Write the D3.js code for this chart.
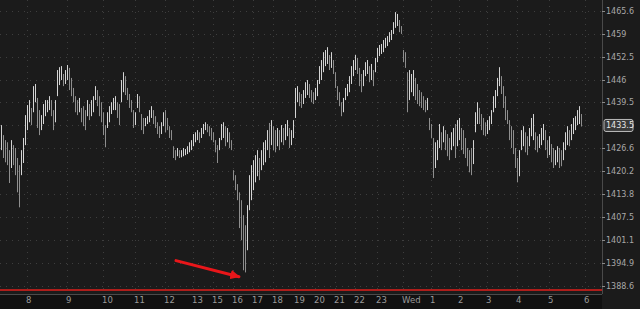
<!DOCTYPE html>
<meta charset="utf-8">
<script src="https://d3js.org/d3.v7.min.js"></script>
<style>
    body { margin: 0; background: #1b1b1b; }
    svg { display: block; font-family: "DejaVu Sans", sans-serif; }
</style>
<body>
<div id="chart"></div>
</body>
<script>
    // one bar per entry, high / low
    const highs = [
        1433.6, 1430.8, 1429.4, 1428.8, 1426.6, 1429.4, 1428.0, 1427.2, 1424.4, 1422.4,
        1426.6, 1430.0, 1436.4, 1439.2, 1440.6, 1438.4, 1444.5, 1445.1, 1441.2, 1437.8,
        1436.4, 1439.5, 1440.6, 1440.6, 1441.7, 1440.6, 1437.8, 1440.6, 1449.0, 1449.8,
        1450.1, 1447.9, 1449.0, 1450.4, 1449.6, 1446.8, 1444.0, 1441.7, 1440.6, 1441.2,
        1438.4, 1438.9, 1437.8, 1440.6, 1439.5, 1440.6, 1441.7, 1444.5, 1443.4, 1441.7,
        1440.0, 1437.2, 1433.6, 1437.2, 1438.9, 1440.0, 1441.2, 1441.7, 1440.0, 1439.5,
        1446.2, 1448.4, 1447.3, 1444.0, 1442.3, 1440.6, 1437.8, 1437.2, 1442.3, 1441.7,
        1436.7, 1435.6, 1435.6, 1436.1, 1437.8, 1438.9, 1437.8, 1436.1, 1434.4, 1433.3,
        1434.4, 1437.2, 1437.8, 1435.6, 1433.3, 1432.2, 1427.7, 1426.6, 1427.2, 1426.6,
        1426.6, 1427.2, 1426.9, 1427.7, 1428.8, 1429.4, 1431.1, 1431.6, 1432.2, 1431.6,
        1432.8, 1433.9, 1434.4, 1433.9, 1433.3, 1432.8, 1431.6, 1429.4, 1428.0, 1430.0,
        1433.9, 1434.4, 1433.3, 1432.8, 1431.6, 1429.4, 1421.0, 1419.6, 1417.1, 1414.8,
        1412.6, 1408.4, 1405.6, 1411.2, 1419.6, 1422.4, 1423.8, 1425.2, 1426.6, 1424.4,
        1426.6, 1428.8, 1429.4, 1432.2, 1434.2, 1435.0, 1433.3, 1432.2, 1432.8, 1432.2,
        1433.6, 1432.8, 1433.9, 1435.0, 1432.8, 1432.2, 1435.0, 1444.0, 1444.5, 1442.8,
        1442.3, 1443.4, 1445.6, 1446.2, 1445.1, 1443.4, 1442.8, 1444.0, 1446.2, 1450.1,
        1451.8, 1454.0, 1454.6, 1455.4, 1453.2, 1454.0, 1451.8, 1448.4, 1444.5, 1442.8,
        1440.0, 1441.2, 1444.0, 1445.1, 1447.3, 1450.1, 1451.8, 1453.2, 1452.4, 1449.6,
        1447.9, 1449.0, 1451.2, 1451.8, 1450.1, 1450.7, 1449.0, 1452.4, 1455.2, 1456.0,
        1456.3, 1457.4, 1458.0, 1458.5, 1459.6, 1460.2, 1462.4, 1465.2, 1464.7, 1463.0,
        1461.3, 1454.6, 1454.0, 1448.4, 1449.0, 1447.9, 1449.0, 1446.8, 1445.1, 1443.4,
        1442.8, 1441.7, 1440.6, 1441.2, 1435.6, 1433.9, 1430.0, 1428.8, 1429.4, 1433.9,
        1431.6, 1433.3, 1432.2, 1431.1, 1430.0, 1431.6, 1432.8, 1433.9, 1435.0, 1435.6,
        1432.8, 1432.2, 1430.0, 1427.2, 1426.6, 1427.2, 1429.4, 1437.2, 1440.0, 1438.4,
        1436.7, 1435.6, 1434.4, 1435.0, 1436.1, 1437.8, 1441.7, 1443.4, 1446.8, 1449.8,
        1447.3, 1444.5, 1441.7, 1437.8, 1435.0, 1433.3, 1432.2, 1427.2, 1424.4, 1426.6,
        1432.2, 1433.3, 1431.6, 1430.5, 1432.8, 1435.6, 1436.7, 1431.6, 1430.5, 1431.1,
        1432.8, 1433.9, 1432.2, 1429.4, 1430.5, 1428.3, 1427.2, 1426.6, 1427.7, 1427.2,
        1426.6, 1428.8, 1431.6, 1433.3, 1432.2, 1433.9, 1435.6, 1436.1, 1437.8, 1438.9,
        1436.7
    ];
    const lows = [
        1426.6, 1424.4, 1423.2, 1422.4, 1417.4, 1421.6, 1422.4, 1419.6, 1414.8, 1410.6,
        1419.6, 1423.0, 1428.0, 1432.2, 1434.4, 1433.6, 1437.2, 1440.0, 1432.8, 1430.8,
        1432.2, 1433.9, 1436.1, 1437.2, 1437.8, 1436.1, 1432.2, 1434.4, 1441.7, 1444.8,
        1446.2, 1444.5, 1445.1, 1446.2, 1443.4, 1441.7, 1440.0, 1437.2, 1436.4, 1437.2,
        1434.4, 1433.3, 1432.2, 1436.1, 1435.0, 1436.1, 1437.2, 1440.6, 1438.9, 1436.1,
        1434.4, 1430.8, 1427.4, 1432.8, 1434.4, 1436.7, 1437.8, 1437.8, 1435.6, 1433.6,
        1440.0, 1442.8, 1442.0, 1440.6, 1438.4, 1437.2, 1432.8, 1433.6, 1438.4, 1437.2,
        1432.2, 1431.1, 1433.3, 1433.9, 1434.4, 1435.6, 1433.9, 1432.8, 1431.1, 1430.0,
        1431.1, 1433.3, 1431.6, 1432.2, 1430.0, 1429.4, 1424.4, 1423.8, 1424.9, 1424.4,
        1424.6, 1424.9, 1425.2, 1425.5, 1426.0, 1426.6, 1427.7, 1428.8, 1429.4, 1428.6,
        1430.0, 1431.1, 1432.2, 1431.6, 1430.5, 1429.4, 1428.8, 1426.0, 1423.0, 1426.6,
        1429.4, 1430.0, 1427.7, 1428.8, 1427.2, 1426.6, 1418.2, 1415.4, 1412.6, 1404.8,
        1401.4, 1393.0, 1392.4, 1398.6, 1409.8, 1412.6, 1415.4, 1417.6, 1419.3, 1418.2,
        1421.0, 1422.4, 1423.2, 1426.6, 1424.4, 1428.0, 1426.6, 1426.0, 1427.7, 1426.6,
        1428.8, 1428.0, 1429.4, 1430.5, 1427.2, 1428.0, 1430.0, 1435.6, 1440.0, 1438.9,
        1438.4, 1439.5, 1441.2, 1442.0, 1441.2, 1440.0, 1439.5, 1440.6, 1441.7, 1445.1,
        1446.2, 1448.4, 1450.1, 1450.7, 1449.0, 1449.6, 1447.9, 1444.0, 1440.6, 1438.9,
        1436.1, 1437.2, 1440.6, 1441.7, 1442.8, 1445.1, 1447.3, 1449.0, 1447.9, 1444.5,
        1442.8, 1444.5, 1447.3, 1447.9, 1445.6, 1446.2, 1444.5, 1448.4, 1451.2, 1452.9,
        1453.5, 1454.0, 1455.2, 1455.7, 1456.8, 1457.4, 1459.1, 1460.8, 1461.3, 1459.6,
        1459.1, 1451.2, 1449.6, 1437.2, 1440.6, 1442.8, 1441.7, 1440.6, 1439.5, 1438.9,
        1438.4, 1437.8, 1437.2, 1437.8, 1432.2, 1430.0, 1418.8, 1421.6, 1423.8, 1427.2,
        1426.6, 1428.8, 1426.6, 1424.9, 1423.8, 1426.6, 1427.7, 1424.4, 1427.7, 1429.4,
        1426.6, 1425.5, 1424.4, 1422.1, 1420.4, 1419.6, 1422.7, 1431.6, 1433.9, 1433.9,
        1432.2, 1430.8, 1430.5, 1431.1, 1432.2, 1433.9, 1437.2, 1438.4, 1441.7, 1444.5,
        1442.3, 1438.4, 1435.0, 1433.9, 1429.4, 1427.2, 1425.5, 1421.6, 1417.6, 1419.3,
        1426.6, 1427.7, 1426.0, 1425.2, 1427.7, 1430.5, 1429.4, 1426.6, 1426.0, 1427.2,
        1428.0, 1429.4, 1426.6, 1424.4, 1425.2, 1423.2, 1421.6, 1422.4, 1423.2, 1421.6,
        1422.1, 1423.8, 1426.6, 1428.0, 1427.7, 1429.4, 1431.1, 1432.2, 1433.6, 1433.9,
        1433.2
    ];
    const lastPrice = 1433.5;

    // x axis: bar index where each hour starts, and its label
    const tickBars = [13, 33, 51, 67, 82, 96, 106, 116, 126, 136, 147, 157, 167, 177, 188, 201, 215, 229, 243, 258, 274, 292];
    const tickNames = ["8", "9", "10", "11", "12", "13", "15", "16", "17", "18", "19", "20", "21", "22", "23", "Wed", "1", "2", "3", "4", "5", "6"];

    // y axis labels, evenly spaced between the two ends
    const priceLabels = ["1388.6", "1394.9", "1401.1", "1407.5", "1413.8", "1420.2", "1426.6", "1433", "1439.5", "1446", "1452.5", "1459", "1465.6"];
    const supportLevel = 1387.5;

    const W = 640, H = 309;
    const plotRight = 602, plotBottom = 294;

    const svg = d3.select("#chart").append("svg")
        .attr("width", W)
        .attr("height", H);

    svg.append("rect").attr("width", W).attr("height", H).attr("fill", "#1b1b1b");
    svg.append("rect").attr("x", 0).attr("y", plotBottom).attr("width", plotRight).attr("height", H - plotBottom).attr("fill", "#111111");

    const x = d3.scaleLinear().domain([-0.5, 300.5]).range([0, plotRight]);
    const lo = +priceLabels[0], hi = +priceLabels[priceLabels.length - 1];
    const y = d3.scaleLinear().domain([lo, hi]).range([286, 10.7]);
    const yTicks = d3.range(priceLabels.length).map(i => lo + (hi - lo) * i / (priceLabels.length - 1));

    // grid
    svg.append("g").selectAll("line").data(yTicks).join("line")
        .attr("x1", 0).attr("x2", plotRight)
        .attr("y1", d => Math.round(y(d)) + 0.5).attr("y2", d => Math.round(y(d)) + 0.5)
        .attr("stroke", "#3e3e3e").attr("stroke-dasharray", "1,5");
    svg.append("g").selectAll("line").data(tickBars).join("line")
        .attr("x1", d => Math.round(x(d)) + 0.5).attr("x2", d => Math.round(x(d)) + 0.5)
        .attr("y1", 0).attr("y2", plotBottom)
        .attr("stroke", "#3e3e3e").attr("stroke-dasharray", "1,5");

    // bars
    const bars = highs.map((h, i) => ({i: i, h: h, l: lows[i]}));
    svg.append("g").selectAll("line").data(bars).join("line")
        .attr("x1", d => Math.round(x(d.i)) + 0.5).attr("x2", d => Math.round(x(d.i)) + 0.5)
        .attr("y1", d => y(d.h)).attr("y2", d => y(d.l))
        .attr("stroke", (d, i) => {
            if (i === 0) return "#cfcfcf";
            const m = (d.h + d.l) / 2, pm = (bars[i - 1].h + bars[i - 1].l) / 2;
            return m >= pm ? "#d4d4d4" : "#8e8e8e";
        })
        .attr("stroke-width", 1);

    // red support line
    svg.append("line")
        .attr("x1", 0).attr("x2", plotRight)
        .attr("y1", y(supportLevel)).attr("y2", y(supportLevel))
        .attr("stroke", "#e0201c").attr("stroke-width", 1.5);

    // plot border
    svg.append("line").attr("x1", plotRight + 0.5).attr("x2", plotRight + 0.5).attr("y1", 0).attr("y2", plotBottom)
        .attr("stroke", "#4a4a4a");
    svg.append("line").attr("x1", 0).attr("x2", plotRight).attr("y1", plotBottom + 0.5).attr("y2", plotBottom + 0.5)
        .attr("stroke", "#4a4a4a");

    // right axis
    const yAxis = svg.append("g");
    yTicks.forEach((t, i) => {
        if (Math.abs(t - lastPrice) < 1) return;
        const yy = Math.round(y(t)) + 0.5;
        yAxis.append("line").attr("x1", plotRight).attr("x2", plotRight + 3).attr("y1", yy).attr("y2", yy).attr("stroke", "#8a8a8a");
        yAxis.append("text").attr("x", plotRight + 4).attr("y", yy).attr("dy", "0.35em")
            .attr("fill", "#a8a8a8").style("font-size", "8px").text(priceLabels[i]);
    });
    const ly = y(lastPrice);
    svg.append("rect").attr("x", plotRight + 2).attr("y", ly - 6).attr("width", 29).attr("height", 12).attr("rx", 2)
        .attr("fill", "#3a3a3a").attr("stroke", "#bdbdbd").attr("stroke-width", 1);
    svg.append("text").attr("x", plotRight + 4).attr("y", ly).attr("dy", "0.35em")
        .attr("fill", "#e6e6e6").style("font-size", "8px").text(lastPrice.toFixed(1));

    // bottom axis
    svg.append("g").selectAll("text").data(tickBars).join("text")
        .attr("x", d => Math.round(x(d)) - 1).attr("y", 303)
        .attr("fill", "#9a9a9a").style("font-size", "8.5px")
        .text((d, i) => tickNames[i]);

    // arrow pointing at the low
    svg.append("defs").append("marker")
        .attr("id", "head").attr("viewBox", "0 0 10 10").attr("refX", 9).attr("refY", 5)
        .attr("markerWidth", 3.2).attr("markerHeight", 3.2).attr("orient", "auto")
        .append("path").attr("d", "M0,0L10,5L0,10Z").attr("fill", "#e8161a");
    svg.append("line")
        .attr("x1", x(87.5)).attr("y1", y(1395.7))
        .attr("x2", x(119)).attr("y2", y(1391.2))
        .attr("stroke", "#e8161a").attr("stroke-width", 3).attr("stroke-linecap", "round")
        .attr("marker-end", "url(#head)");
</script>
</html>
